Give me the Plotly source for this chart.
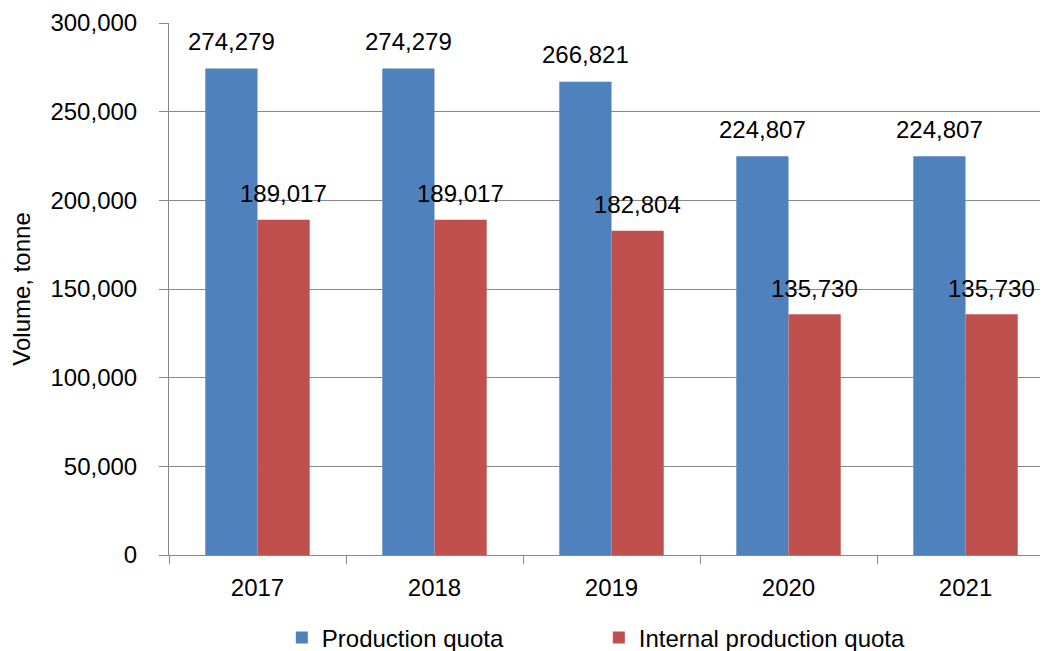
import plotly.graph_objects as go

years = ["2017", "2018", "2019", "2020", "2021"]
production_quota = [274279, 274279, 266821, 224807, 224807]
internal_quota = [189017, 189017, 182804, 135730, 135730]

series_names = ["Production quota", "Internal production quota"]
colors = ["#4F81BD", "#C0504D"]

FONT = "Liberation Sans, Arial, sans-serif"
FS = 24
bargap = 0.41

fig = go.Figure()
for name, vals, col in zip(series_names, [production_quota, internal_quota], colors):
    fig.add_trace(go.Bar(
        x=years, y=vals, name=name,
        marker=dict(color=col, line=dict(width=0)),
    ))

# value labels above bars
w = (1 - bargap) / 2
for k, vals in enumerate([production_quota, internal_quota]):
    off = (k - 0.5) * w
    for i, v in enumerate(vals):
        fig.add_annotation(
            x=i + off, y=v, xref="x", yref="y",
            text=f"{v:,}", showarrow=False,
            yanchor="middle", xanchor="center", yshift=27 if k == 0 else 26,
            font=dict(family=FONT, size=FS, color="#000000"),
        )

grid = "#888888"
fig.update_layout(
    width=1040, height=643,
    margin=dict(l=161, r=0, t=15, b=96, autoexpand=False),
    paper_bgcolor="white", plot_bgcolor="white",
    barmode="group", bargap=bargap, bargroupgap=0,
    font=dict(family=FONT, size=FS, color="#000000"),
    showlegend=True,
    legend=dict(
        orientation="h", x=0.489, xanchor="center", y=-0.156, yanchor="middle",
        font=dict(family=FONT, size=FS, color="#000000"),
        entrywidth=272, entrywidthmode="pixels",
        itemwidth=30,
    ),
    xaxis=dict(
        type="category", range=[-0.5, 4.466], automargin=False,
        showline=True, linecolor=grid, linewidth=1,
        ticks="outside", ticklen=8, tickcolor=grid, tickson="boundaries",
        showgrid=False, ticklabelstandoff=11,
        tickfont=dict(family=FONT, size=FS, color="#000000"),
    ),
    yaxis=dict(
        range=[0, 300000], dtick=50000, tickformat=",", automargin=False,
        showline=True, linecolor=grid, linewidth=1,
        ticks="outside", ticklen=9, tickcolor=grid,
        showgrid=True, gridcolor=grid, gridwidth=1,
        zeroline=False, ticklabelstandoff=17,
        tickfont=dict(family=FONT, size=FS, color="#000000"),
        title=dict(text="Volume, tonne", standoff=19,
                   font=dict(family=FONT, size=FS, color="#000000")),
    ),
)

fig.write_html("out.html")
